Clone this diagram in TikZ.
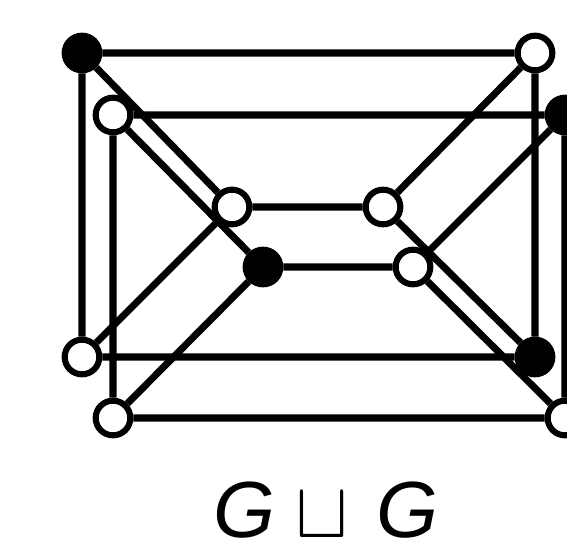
\documentclass[tikz,border=0pt]{standalone}
\usepackage{fix-cm}
\usepackage{fontspec}
\setmainfont{Liberation Sans}
\usetikzlibrary{backgrounds}
\begin{document}
\begin{tikzpicture}[x=0.03cm,y=-0.03cm,
  vtx/.style={circle,draw=black,line width=5.2pt,minimum size=1.04cm,inner sep=0pt},
  wv/.style={vtx,fill=white},
  bv/.style={vtx,fill=black},
  edge/.style={line width=6pt}]
\useasboundingbox (0,0) rectangle (567,545);
% first copy
\node[bv] (a1) at (82,53) {};
\node[wv] (a2) at (535,53) {};
\node[wv] (a3) at (82,357) {};
\node[bv] (a4) at (535,357) {};
\node[wv] (a5) at (232,207) {};
\node[wv] (a6) at (383,207) {};
% second copy
\node[wv] (b1) at (113,115) {};
\node[bv] (b2) at (565,115) {};
\node[wv] (b3) at (113,418) {};
\node[wv] (b4) at (565,418) {};
\node[bv] (b5) at (263,267) {};
\node[wv] (b6) at (413,267) {};
\begin{scope}[on background layer]
\draw[edge] (a1)--(a2) (a1)--(a3) (a3)--(a4) (a2)--(a4) (a5)--(a6)
  (a1)--(a5) (a3)--(a5) (a2)--(a6) (a4)--(a6);
\draw[edge] (b1)--(b2) (b1)--(b3) (b3)--(b4) (b2)--(b4) (b5)--(b6)
  (b1)--(b5) (b3)--(b5) (b2)--(b6) (b4)--(b6);
\end{scope}
\node[inner sep=0pt,anchor=base] (lbl) at (326,537) {\fontsize{68}{72}\selectfont\itshape G\hspace{17pt}$\sqcup$\hspace{24pt}G};
\end{tikzpicture}
\end{document}
